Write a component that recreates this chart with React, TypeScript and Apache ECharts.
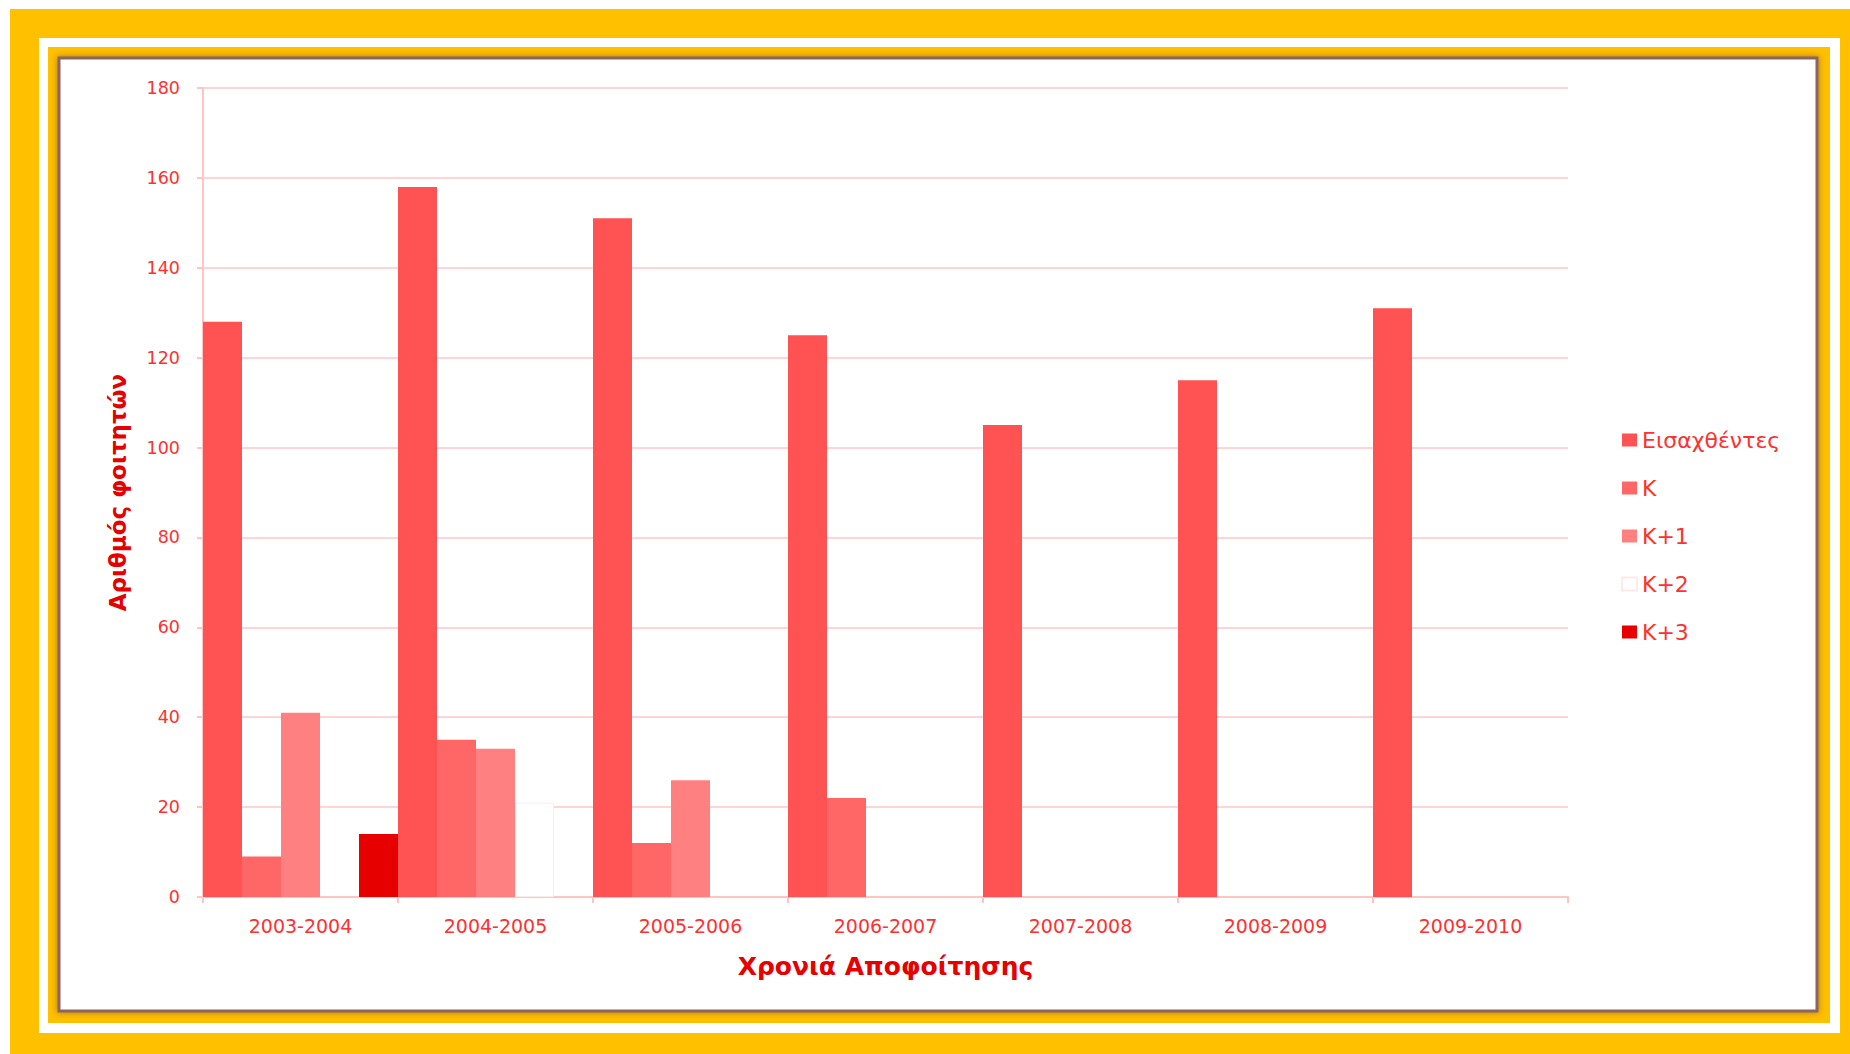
import React, { useEffect, useRef } from "react";
import * as echarts from "echarts";

const categories = ["2003-2004", "2004-2005", "2005-2006", "2006-2007", "2007-2008", "2008-2009", "2009-2010"];
const seriesNames = ["Εισαχθέντες", "Κ", "Κ+1", "Κ+2", "Κ+3"];
const eisaxthentes = [128, 158, 151, 125, 105, 115, 131];
const kValues = [9, 35, 12, 22, null, null, null];
const k1Values = [41, 33, 26, null, null, null, null];
const k2Values = [null, 21, null, null, null, null, null];
const k3Values = [14, null, null, null, null, null, null];
const yTicks = { min: 0, max: 180, interval: 20 };

const colors = ["#FF5252", "#FF6666", "#FF8080", "#FFFFFF", "#E60000"];
const FONT = "DejaVu Sans";
const LABEL_RED = "#FF3030";
const TITLE_RED = "#E60000";

export default function App() {
  const ref = useRef<HTMLDivElement>(null);
  useEffect(() => {
    if (!ref.current) return;
    const chart = echarts.init(ref.current, null, { renderer: "svg" });
    const dataSets = [eisaxthentes, kValues, k1Values, k2Values, k3Values];
    chart.setOption({
      animation: false,
      backgroundColor: "#FFFFFF",
      graphic: [
        { type: "rect", z: -10, shape: { x: 10, y: 9, width: 1840, height: 1045 }, style: { fill: "#FFC000" }, silent: true },
        { type: "rect", z: -9, shape: { x: 39, y: 38, width: 1801, height: 995 }, style: { fill: "#FFFFFF" }, silent: true },
        { type: "rect", z: -8, shape: { x: 48, y: 47, width: 1782, height: 976 }, style: { fill: "#FFC000" }, silent: true },
        {
          type: "rect", z: -7,
          shape: { x: 59, y: 58, width: 1758, height: 953 },
          style: { fill: "#FFFFFF", stroke: "#8E6464", lineWidth: 3, shadowBlur: 6, shadowColor: "rgba(80,40,40,0.5)" },
          silent: true,
        },
      ],
      grid: { left: 203, top: 88, right: 282, bottom: 157, containLabel: false },
      legend: {
        orient: "vertical",
        left: 1616,
        top: 424,
        itemWidth: 15,
        itemHeight: 13,
        itemGap: 26,
        icon: "rect",
        data: seriesNames,
        textStyle: { color: LABEL_RED, fontSize: 22, fontFamily: FONT, height: 22, lineHeight: 22, padding: [0, 0, 0, 0] },
      },
      xAxis: {
        type: "category",
        data: categories,
        name: "Χρονιά Αποφοίτησης",
        nameLocation: "middle",
        nameGap: 57,
        nameTextStyle: { color: TITLE_RED, fontSize: 25, fontWeight: "bold", fontFamily: FONT },
        axisLine: { lineStyle: { color: "#FFC4C4", width: 2 } },
        axisTick: { show: true, length: 6, lineStyle: { color: "#FFC4C4", width: 2 } },
        axisLabel: { color: LABEL_RED, fontSize: 19, fontFamily: FONT, margin: 19 },
        splitLine: { show: false },
      },
      yAxis: {
        type: "value",
        min: yTicks.min,
        max: yTicks.max,
        interval: yTicks.interval,
        name: "Αριθμός φοιτητών",
        nameLocation: "middle",
        nameRotate: 90,
        nameGap: 74,
        nameTextStyle: { color: TITLE_RED, fontSize: 23, fontWeight: "bold", fontFamily: FONT },
        axisLine: { show: true, lineStyle: { color: "#FFC4C4", width: 2 } },
        axisTick: { show: true, length: 6, lineStyle: { color: "#FFC4C4", width: 2 } },
        axisLabel: { color: LABEL_RED, fontSize: 17.5, fontFamily: FONT, margin: 23 },
        splitLine: { show: true, lineStyle: { color: "#FFD4D4", width: 2 } },
      },
      series: seriesNames.map((name, i) => ({
        name,
        type: "bar",
        data: dataSets[i],
        barGap: "0%",
        barCategoryGap: "0%",
        itemStyle: {
          color: colors[i],
          borderColor: i === 3 ? "#FFEAEA" : colors[i],
          borderWidth: i === 3 ? 1 : 0,
        },
      })),
    });
    return () => chart.dispose();
  }, []);
  return (
    <div
      ref={ref}
      style={{ position: "absolute", left: 0, top: 0, width: 1850, height: 1054 }}
    />
  );
}
